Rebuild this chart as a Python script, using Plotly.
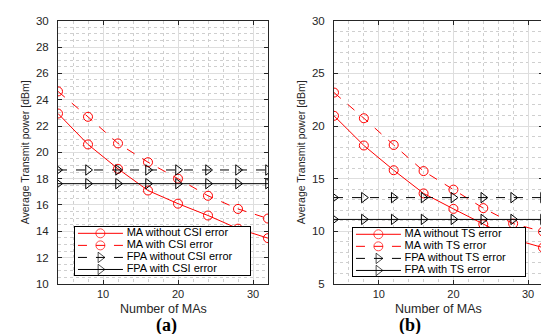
import plotly.graph_objects as go

# ---- data ----
num_mas = [4, 8, 12, 16, 20, 24, 28, 32]

ma_without_csi = [22.95, 20.6, 18.75, 17.1, 16.1, 15.2, 14.2, 13.48]
ma_with_csi = [24.63, 22.7, 20.68, 19.25, 18.0, 16.7, 15.7, 14.97]
fpa_without_csi = [18.66] * 8
fpa_with_csi = [17.62] * 8

ma_without_ts = [20.97, 18.15, 15.8, 13.6, 12.13, 10.67, 9.25, 8.45]
ma_with_ts = [23.18, 20.74, 18.2, 15.72, 13.96, 12.2, 10.73, 9.97]
fpa_without_ts = [13.2] * 8
fpa_with_ts = [11.13] * 8

names_a = ["MA without CSI error", "MA with CSI error", "FPA without CSI error", "FPA with CSI error"]
names_b = ["MA without TS error", "MA with TS error", "FPA without TS error", "FPA with TS error"]

W, H = 549, 334
RED = "#ff0000"
BLK = "#000000"
AX = "#262626"
FONT = "Liberation Sans, Arial, sans-serif"
SERIF = "Liberation Serif, Times New Roman, serif"

styles = [
    (RED, "solid", "circle-open"),
    (RED, "dash", "circle-open"),
    (BLK, "dash", "triangle-right-open"),
    (BLK, "solid", "triangle-right-open"),
]

fig = go.Figure()

def add(x, y, name, style, xa, ya):
    color, dash, symbol = style
    fig.add_trace(go.Scatter(
        x=x, y=y, name=name, mode="lines+markers", showlegend=False,
        line=dict(color=color, width=1, dash=dash),
        marker=dict(symbol=symbol, size=9, color=color, line=dict(color=color, width=1)),
        xaxis=xa, yaxis=ya))

for series, name, st in zip([ma_without_csi, ma_with_csi, fpa_without_csi, fpa_with_csi], names_a, styles):
    add(num_mas, series, name, st, "x", "y")
for series, name, st in zip([ma_without_ts, ma_with_ts, fpa_without_ts, fpa_with_ts], names_b, styles):
    add(num_mas, series, name, st, "x2", "y2")

# ---- legend boxes drawn as small inset axes (library-rendered samples) ----
def add_legend(names, xa, ya):
    for i, (name, (color, dash, symbol)) in enumerate(zip(names, styles), start=1):
        fig.add_trace(go.Scatter(
            x=[0.17, 1.45, 2.74], y=[i, i, i], mode="lines+markers", showlegend=False, hoverinfo="skip",
            line=dict(color=color, width=1, dash=dash),
            marker=dict(symbol=symbol, size=[0, 9, 0], color=color, line=dict(color=color, width=1)),
            xaxis=xa, yaxis=ya))
        fig.add_trace(go.Scatter(
            x=[2.95], y=[i], mode="text", text=[name], textposition="middle right",
            textfont=dict(family=FONT, size=11, color=BLK), showlegend=False, hoverinfo="skip",
            xaxis=xa, yaxis=ya))

add_legend(names_a, "x3", "y3")
add_legend(names_b, "x4", "y4")

yd = [1 - 280 / H, 1 - 7 / H]
ROW = 12.5

def xaxis(domain, anchor):
    return dict(domain=domain, range=[4, 32], tickvals=[10, 20, 30], anchor=anchor,
                ticks="inside", ticklen=4, tickcolor=AX, mirror="ticks",
                showline=True, linecolor=AX, linewidth=1,
                showgrid=True, gridcolor="#dedede", gridwidth=1, zeroline=False,
                minor=dict(dtick=2, showgrid=True, gridcolor="#cfcfcf", griddash="dot", gridwidth=1, ticks=""),
                tickfont=dict(family=FONT, size=11, color=AX))

def yaxis(rng, dtick, minor, anchor):
    return dict(domain=yd, range=rng, dtick=dtick, anchor=anchor,
                ticks="inside", ticklen=4, tickcolor=AX, mirror="ticks",
                showline=True, linecolor=AX, linewidth=1,
                showgrid=True, gridcolor="#dedede", gridwidth=1, zeroline=False,
                minor=dict(dtick=minor, showgrid=True, gridcolor="#cfcfcf", griddash="dot", gridwidth=1, ticks=""),
                tickfont=dict(family=FONT, size=11.5, color=AX), ticklabelstandoff=6,
                title=dict(text="Average Transmit power [dBm]", font=dict(family=FONT, size=10.5, color=AX), standoff=4))

def box_x(l, r, anchor):
    return dict(domain=[l / W, r / W], range=[0, (r - l) / 17.5], anchor=anchor,
                showline=True, mirror=True, linecolor=BLK, linewidth=1,
                showgrid=False, zeroline=False, showticklabels=False, ticks="", fixedrange=True)

def box_y(b, anchor):
    t = b - 4.04 * ROW
    return dict(domain=[1 - b / H, 1 - t / H], range=[4.48, 0.44], anchor=anchor,
                showline=True, mirror=True, linecolor=BLK, linewidth=1,
                showgrid=False, zeroline=False, showticklabels=False, ticks="", fixedrange=True)

fig.update_layout(
    width=W, height=H, margin=dict(l=0, r=0, t=0, b=0),
    paper_bgcolor="white", plot_bgcolor="white", showlegend=False,
    xaxis=xaxis([50 / W, 260 / W], "y"),
    yaxis=yaxis([10, 30], 2, 0.5, "x"),
    xaxis2=xaxis([326 / W, 535 / W], "y2"),
    yaxis2=yaxis([5, 30], 5, 1, "x2"),
    xaxis3=box_x(67, 242, "y3"),
    yaxis3=box_y(271, "x3"),
    xaxis4=box_x(345, 517, "y4"),
    yaxis4=box_y(272, "x4"),
    annotations=[
        dict(text="Number of MAs", x=155 / W, y=1 - 305.5 / H, xref="paper", yref="paper",
             xanchor="center", yanchor="middle", showarrow=False,
             font=dict(family=FONT, size=12.5, color=AX)),
        dict(text="Number of MAs", x=430.5 / W, y=1 - 305.5 / H, xref="paper", yref="paper",
             xanchor="center", yanchor="middle", showarrow=False,
             font=dict(family=FONT, size=12.5, color=AX)),
        dict(text="<b>(a)</b>", x=158 / W, y=1 - 323.5 / H, xref="paper", yref="paper",
             xanchor="center", yanchor="middle", showarrow=False,
             font=dict(family=SERIF, size=18, color=BLK)),
        dict(text="<b>(b)</b>", x=402 / W, y=1 - 323.5 / H, xref="paper", yref="paper",
             xanchor="center", yanchor="middle", showarrow=False,
             font=dict(family=SERIF, size=18, color=BLK)),
    ],
)

fig.write_html("out.html")
